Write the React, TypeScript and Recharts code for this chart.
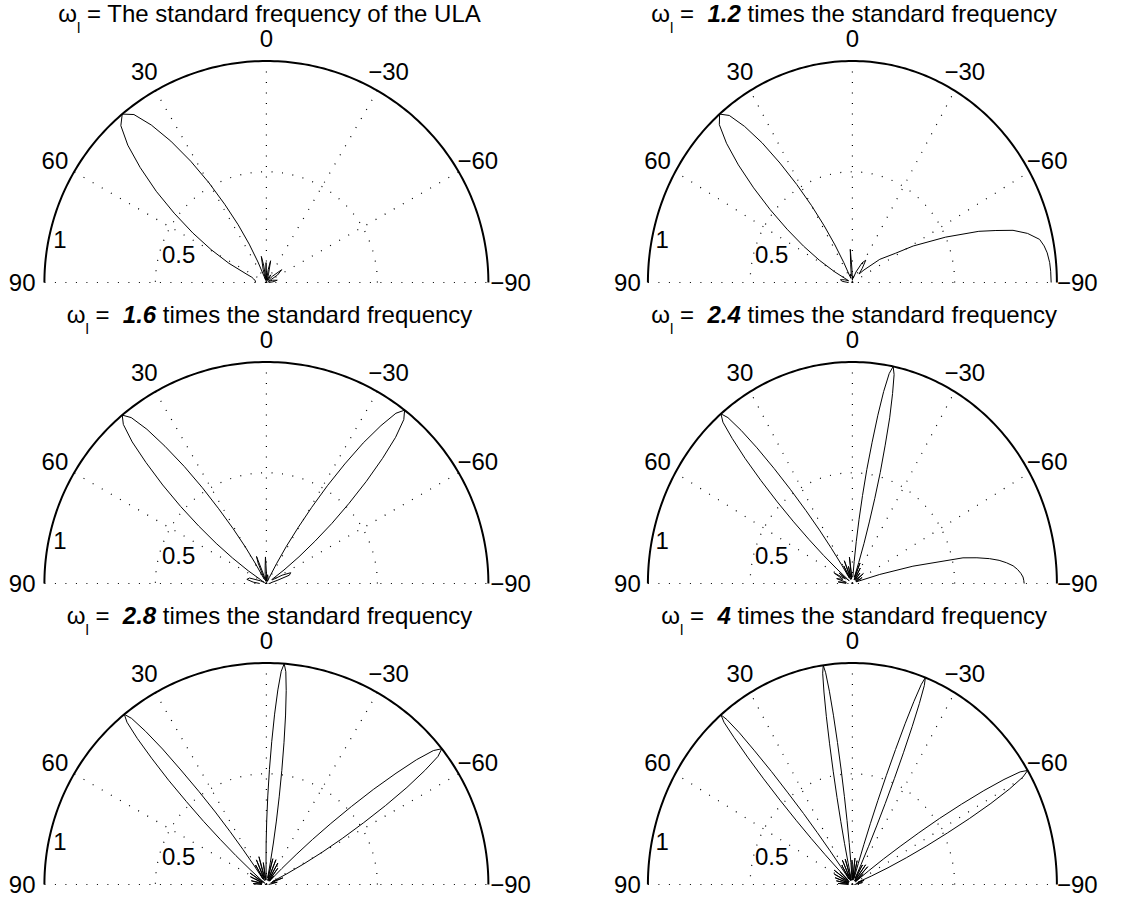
import React from 'react';
import { LineChart, Line, XAxis, YAxis, ReferenceLine, ReferenceDot } from 'recharts';

// [angle in degrees (0 = up, positive = left), normalised gain]
type Pt = [number, number];

const p1: Pt[] = [
  [90, 0.05], [82, 0.05], [74, 0.06], [70, 0.07], [66.8, 0.1], [62.8, 0.19], [59.2, 0.29], [56, 0.4],
  [53, 0.52], [50.3, 0.645], [47.6, 0.77], [45.2, 0.88], [42.8, 0.965], [40.5, 1], [38.2, 0.965],
  [36.1, 0.88], [34, 0.77], [31.9, 0.645], [29.9, 0.52], [28, 0.4], [26, 0.29], [24.1, 0.19],
  [22.3, 0.1], [20.4, 0.03], [17, 0.01], [14, 0.06], [11, 0.12], [9, 0.08], [6, 0.01], [3, 0.05],
  [1, 0.09], [-1, 0.03], [-4, 0.01], [-8, 0.06], [-11, 0.1], [-14, 0.04], [-18, 0.01], [-25, 0.03],
  [-30, 0.04], [-36, 0.01], [-44, 0.04], [-50, 0.09], [-56, 0.06], [-62, 0.01], [-70, 0.03],
  [-78, 0.05], [-84, 0.03], [-90, 0.01],
];

const p2: Pt[] = [
  [90, 0.02], [84, 0.05], [78, 0.06], [72, 0.04], [67, 0.02], [64, 0.03], [60.9, 0.1], [58.1, 0.19],
  [55.5, 0.29], [53, 0.4], [50.7, 0.52], [48.5, 0.645], [46.4, 0.77], [44.4, 0.88], [42.4, 0.965],
  [40.5, 1], [38.6, 0.965], [36.8, 0.88], [35, 0.77], [33.3, 0.645], [31.6, 0.52], [29.9, 0.4],
  [28.3, 0.29], [26.7, 0.19], [25.1, 0.1], [23.5, 0.03], [20, 0.02], [15, 0.04], [10, 0.03],
  [6, 0.08], [4, 0.15], [2, 0.06], [0, 0.01], [-5, 0.03], [-12, 0.02], [-20, 0.05], [-28, 0.1],
  [-33, 0.12], [-37, 0.08], [-40, 0.05], [-45, 0.08], [-52, 0.17], [-58, 0.25], [-61, 0.34],
  [-65.8, 0.5], [-69.5, 0.66], [-71.5, 0.74], [-73.3, 0.82], [-75.5, 0.885], [-78, 0.936],
  [-80, 0.952], [-82, 0.962], [-84.7, 0.969], [-87, 0.971], [-90, 0.972],
];

const p3: Pt[] = [
  [90, 0.03], [84, 0.06], [78, 0.09], [72, 0.08], [66, 0.03], [62, 0.01], [59, 0.02], [56.8, 0.03],
  [54.9, 0.1], [53, 0.19], [51.3, 0.29], [49.6, 0.4], [48, 0.52], [46.4, 0.645], [44.8, 0.77],
  [43.4, 0.88], [41.9, 0.965], [40.5, 1], [39.1, 0.965], [37.7, 0.88], [36.4, 0.77], [35, 0.645],
  [33.7, 0.52], [32.5, 0.4], [31.2, 0.29], [29.9, 0.19], [28.7, 0.1], [27.5, 0.03], [25, 0.02],
  [22, 0.1], [20, 0.13], [18, 0.05], [14, 0.01], [8, 0.04], [4, 0.08], [2, 0.12], [0, 0.05],
  [-3, 0.01], [-8, 0.04], [-14, 0.03], [-20, 0.02], [-24, 0.01], [-25.8, 0.03], [-27, 0.1],
  [-28.2, 0.19], [-29.5, 0.29], [-30.7, 0.4], [-31.9, 0.52], [-33.2, 0.645], [-34.5, 0.77],
  [-35.9, 0.88], [-37.2, 0.965], [-38.5, 1], [-39.9, 0.965], [-41.4, 0.88], [-42.8, 0.77],
  [-44.3, 0.645], [-45.8, 0.52], [-47.4, 0.4], [-48.9, 0.29], [-50.6, 0.19], [-52.4, 0.1],
  [-54.2, 0.03], [-58, 0.03], [-62, 0.08], [-66, 0.12], [-70, 0.11], [-74, 0.05], [-80, 0.02],
  [-86, 0.02], [-90, 0.01],
];

const p4: Pt[] = [
  [90, 0.03], [84, 0.07], [80, 0.03], [74, 0.08], [68, 0.05], [62, 0.1], [58, 0.04], [54, 0.08],
  [52, 0.02], [50.2, 0.03], [49.1, 0.1], [48, 0.19], [46.9, 0.29], [45.9, 0.4], [44.9, 0.52],
  [43.9, 0.645], [42.9, 0.77], [41.9, 0.88], [41, 0.965], [40, 1], [39.1, 0.965], [38.2, 0.88],
  [37.3, 0.77], [36.4, 0.645], [35.5, 0.52], [34.6, 0.4], [33.7, 0.29], [32.9, 0.19], [32, 0.1],
  [31.2, 0.03], [28, 0.09], [25, 0.02], [21, 0.11], [18, 0.03], [14, 0.08], [11, 0.02], [7, 0.12],
  [5, 0.03], [-4.2, 0.03], [-5, 0.1], [-5.7, 0.19], [-6.4, 0.29], [-7.1, 0.4], [-7.8, 0.52],
  [-8.6, 0.645], [-9.3, 0.77], [-10, 0.88], [-10.75, 0.965], [-11.5, 1], [-12.2, 0.965],
  [-12.9, 0.88], [-13.7, 0.77], [-14.4, 0.645], [-15.2, 0.52], [-15.9, 0.4], [-16.6, 0.29],
  [-17.4, 0.19], [-18.1, 0.1], [-18.9, 0.03], [-22, 0.1], [-25, 0.02], [-29, 0.08], [-33, 0.02],
  [-38, 0.06], [-44, 0.02], [-50, 0.07], [-56, 0.02], [-62, 0.05], [-67, 0.02], [-70, 0.03],
  [-73, 0.14], [-75.2, 0.306], [-77.9, 0.553], [-79.2, 0.62], [-80.5, 0.68], [-81.7, 0.725],
  [-82.9, 0.759], [-84.2, 0.79], [-85.5, 0.81], [-86.8, 0.825], [-88, 0.835], [-89, 0.838],
  [-90, 0.84],
];

const p5: Pt[] = [
  [90, 0.02], [86, 0.06], [82, 0.02], [76, 0.07], [70, 0.02], [64, 0.08], [60, 0.02], [55, 0.09],
  [51, 0.02], [49, 0.01], [48.3, 0.03], [47.4, 0.1], [46.5, 0.19], [45.6, 0.29], [44.8, 0.4],
  [43.9, 0.52], [43.1, 0.645], [42.2, 0.77], [41.4, 0.88], [40.6, 0.965], [39.8, 1], [39, 0.965],
  [38.2, 0.88], [37.4, 0.77], [36.7, 0.645], [35.9, 0.52], [35.1, 0.4], [34.4, 0.29], [33.7, 0.19],
  [32.9, 0.1], [32.2, 0.03], [29, 0.1], [26, 0.02], [22, 0.12], [19, 0.03], [15, 0.13], [12, 0.02],
  [8, 0.1], [5, 0.02], [2.5, 0.03], [1.55, 0.03], [0.94, 0.1], [0.33, 0.19], [-0.29, 0.29],
  [-0.9, 0.4], [-1.51, 0.52], [-2.13, 0.645], [-2.75, 0.77], [-3.36, 0.88], [-3.97, 0.965],
  [-4.6, 1], [-5.2, 0.965], [-5.82, 0.88], [-6.44, 0.77], [-7.06, 0.645], [-7.68, 0.52],
  [-8.3, 0.4], [-8.92, 0.29], [-9.54, 0.19], [-10.16, 0.1], [-10.78, 0.03], [-14, 0.12],
  [-17, 0.02], [-21, 0.12], [-24, 0.02], [-28, 0.11], [-31, 0.02], [-35, 0.09], [-38, 0.02],
  [-41, 0.05], [-42.5, 0.02], [-43.1, 0.03], [-43.9, 0.1], [-44.8, 0.19], [-45.6, 0.29],
  [-46.5, 0.4], [-47.4, 0.52], [-48.3, 0.645], [-49.3, 0.77], [-50.2, 0.88], [-51.2, 0.965],
  [-52.2, 1], [-53.2, 0.965], [-54.2, 0.88], [-55.3, 0.77], [-56.4, 0.645], [-57.5, 0.52],
  [-58.7, 0.4], [-59.9, 0.29], [-61.1, 0.19], [-62.4, 0.1], [-63.8, 0.03], [-68, 0.08], [-72, 0.02],
  [-78, 0.05], [-84, 0.02], [-90, 0.01],
];

const p6: Pt[] = [
  [90, 0.02], [86, 0.07], [82, 0.02], [78, 0.08], [74, 0.02], [70, 0.09], [66, 0.02], [62, 0.1],
  [58, 0.02], [54, 0.11], [50, 0.02], [47, 0.08], [45.9, 0.03], [45.3, 0.1], [44.7, 0.19],
  [44.1, 0.29], [43.5, 0.4], [42.9, 0.52], [42.3, 0.645], [41.7, 0.77], [41.1, 0.88], [40.6, 0.965],
  [40, 1], [39.5, 0.965], [38.9, 0.88], [38.4, 0.77], [37.8, 0.645], [37.3, 0.52], [36.7, 0.4],
  [36.2, 0.29], [35.7, 0.19], [35.1, 0.1], [34.6, 0.03], [31, 0.1], [28, 0.02], [24, 0.12],
  [21, 0.02], [17, 0.12], [14.5, 0.03], [13.5, 0.02], [12.59, 0.03], [12.15, 0.1], [11.71, 0.19],
  [11.27, 0.29], [10.84, 0.4], [10.4, 0.52], [9.96, 0.645], [9.53, 0.77], [9.09, 0.88],
  [8.66, 0.965], [8.2, 1], [7.79, 0.965], [7.35, 0.88], [6.92, 0.77], [6.49, 0.645], [6.06, 0.52],
  [5.62, 0.4], [5.19, 0.29], [4.76, 0.19], [4.33, 0.1], [3.9, 0.03], [1, 0.11], [-2, 0.02],
  [-6, 0.12], [-9, 0.02], [-12, 0.11], [-15, 0.03], [-16.38, 0.03], [-16.83, 0.1], [-17.28, 0.19],
  [-17.73, 0.29], [-18.18, 0.4], [-18.63, 0.52], [-19.09, 0.645], [-19.54, 0.77], [-20, 0.88],
  [-20.46, 0.965], [-20.9, 1], [-21.38, 0.965], [-21.84, 0.88], [-22.3, 0.77], [-22.77, 0.645],
  [-23.23, 0.52], [-23.7, 0.4], [-24.17, 0.29], [-24.64, 0.19], [-25.12, 0.1], [-25.59, 0.03],
  [-29, 0.1], [-32, 0.02], [-36, 0.11], [-39, 0.02], [-43, 0.11], [-46, 0.02], [-49, 0.07],
  [-50.5, 0.02], [-51.4, 0.03], [-52.1, 0.1], [-52.8, 0.19], [-53.6, 0.29], [-54.3, 0.4],
  [-55, 0.52], [-55.8, 0.645], [-56.6, 0.77], [-57.4, 0.88], [-58.2, 0.965], [-59, 1],
  [-59.8, 0.965], [-60.7, 0.88], [-61.6, 0.77], [-62.5, 0.645], [-63.4, 0.52], [-64.4, 0.4],
  [-65.4, 0.29], [-66.5, 0.19], [-67.6, 0.1], [-68.8, 0.03], [-72, 0.06], [-76, 0.02], [-80, 0.05],
  [-85, 0.02], [-90, 0.01],
];

const patterns = [p1, p2, p3, p4, p5, p6];
const freqFactors = ['', '1.2', '1.6', '2.4', '2.8', '4'];
const angleTicks = [0, 30, -30, 60, -60, 90, -90];
const spokeAngles = [0, 30, -30, 60, -60];
const radialTicks = ['0.5', '1'];

// layout (px)
const COLS = [{ cx: 266, rx: 222, tx: 3.5 }, { cx: 852.7, rx: 204.5, tx: 1.5 }];
const ROWS = [283, 584, 885];
const RY = 221.5;
const XD = 1.2;
const YTOP = 1.28;
const YBOT = 0.06;
const FS = 24;
const FONT = "'Liberation Sans', Arial, Helvetica, sans-serif";

const rad = (d: number) => (d * Math.PI) / 180;
const toXY = ([deg, r]: Pt) => ({ x: -r * Math.sin(rad(deg)), y: r * Math.cos(rad(deg)) });
const arc = (r: number) => {
  const pts = [];
  for (let d = -90; d <= 90; d += 1) pts.push(toXY([d, r]));
  return pts;
};
const fmt = (v: number) => (v < 0 ? '\u2212' + Math.abs(v) : String(v));
const radialPos: Record<string, { x: number; y: number }> = {
  '0.5': { x: -0.395, y: 0.126 },
  '1': { x: -0.93, y: 0.194 },
};

function Title({ factor }: { factor: string }) {
  const sub = <span style={{ fontSize: 15, position: 'relative', top: 11 }}>l</span>;
  if (!factor) {
    return (
      <>
        ω{sub} = The standard frequency of the ULA
      </>
    );
  }
  return (
    <>
      ω{sub}{' =  '}
      <b>
        <i>{factor}</i>
      </b>
      {' times the standard frequency'}
    </>
  );
}

function Panel({ idx }: { idx: number }) {
  const col = COLS[idx % 2];
  const cy = ROWS[Math.floor(idx / 2)];
  const w = 2 * XD * col.rx;
  const h = (YTOP + YBOT) * RY;
  const left = col.cx - XD * col.rx;
  const top = cy - YTOP * RY;
  const lineProps = { dataKey: 'y', stroke: '#000', dot: false, activeDot: false, isAnimationActive: false, type: 'linear' as const };
  const labelStyle = { position: 'center' as const, fontSize: FS, fill: '#000', fontFamily: FONT };

  return (
    <>
      <div
        style={{
          position: 'absolute',
          left: col.cx + col.tx - 300,
          top: cy - 283.5,
          width: 600,
          textAlign: 'center',
          fontSize: FS,
          lineHeight: '27px',
          whiteSpace: 'pre',
          fontFamily: FONT,
          color: '#000',
        }}
      >
        <Title factor={freqFactors[idx]} />
      </div>
      <div style={{ position: 'absolute', left, top, width: w, height: h, fontFamily: FONT }}>
        <LineChart width={w} height={h} margin={{ top: 0, right: 0, bottom: 0, left: 0 }}>
          <XAxis type="number" dataKey="x" domain={[-XD, XD]} hide allowDataOverflow />
          <YAxis type="number" dataKey="y" domain={[-YBOT, YTOP]} hide allowDataOverflow />
          <ReferenceLine
            segment={[{ x: -1, y: 0 }, { x: 1, y: 0 }]}
            stroke="#000"
            strokeWidth={1.2}
            strokeDasharray="1 9.5"
          />
          {spokeAngles.map((a) => (
            <ReferenceLine
              key={a}
              segment={[{ x: 0, y: 0 }, toXY([a, 1])]}
              stroke="#000"
              strokeWidth={1.2}
              strokeDasharray="1 9.5"
            />
          ))}
          <Line {...lineProps} data={arc(0.5)} strokeWidth={1.2} strokeDasharray="1 9.5" />
          <Line {...lineProps} data={arc(1)} strokeWidth={2} />
          <Line {...lineProps} data={patterns[idx].map(toXY)} strokeWidth={1} />
          {angleTicks.map((a) => {
            const p = toXY([a, 1.1]);
            return (
              <ReferenceDot
                key={'a' + a}
                x={p.x}
                y={p.y}
                r={0}
                fill="none"
                stroke="none"
                label={{ value: fmt(a), ...labelStyle }}
              />
            );
          })}
          {radialTicks.map((t) => (
            <ReferenceDot
              key={'r' + t}
              x={radialPos[t].x}
              y={radialPos[t].y}
              r={0}
              fill="none"
              stroke="none"
              label={{ value: t, ...labelStyle }}
            />
          ))}
        </LineChart>
      </div>
    </>
  );
}

export default function App() {
  return (
    <div style={{ position: 'absolute', left: 0, top: 0, width: 1146, height: 902, background: '#fff' }}>
      {patterns.map((_, i) => (
        <Panel key={i} idx={i} />
      ))}
    </div>
  );
}
